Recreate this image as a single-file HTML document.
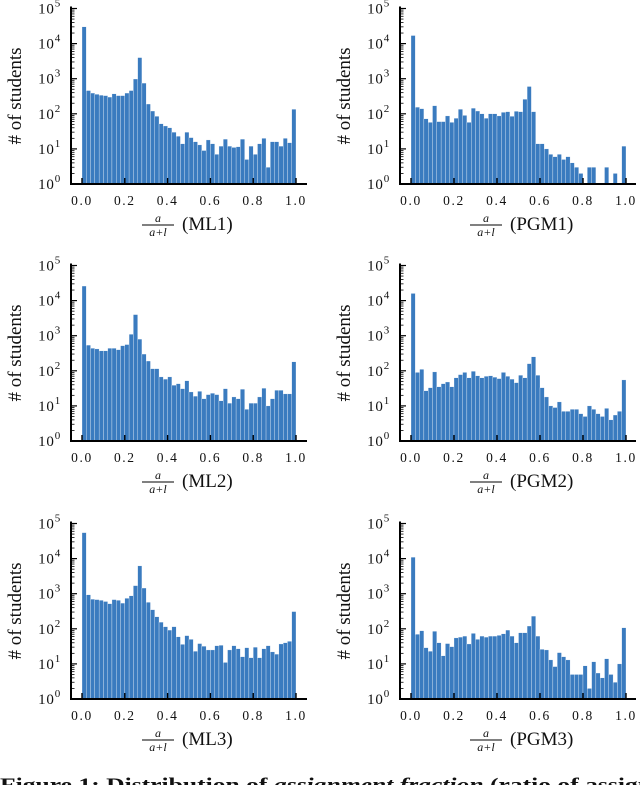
<!DOCTYPE html>
<html><head><meta charset="utf-8">
<style>
html,body{margin:0;padding:0;background:#fff;}
body{width:640px;height:785px;overflow:hidden;position:relative;}
svg{position:absolute;left:0;top:0;}
text{font-family:"Liberation Serif",serif;fill:#111;}
</style></head>
<body>
<svg id="fig" width="640" height="785" viewBox="0 0 640 785"></svg>
<script>
const binEdges = [0,0.02,0.04,0.06,0.08,0.1,0.12,0.14,0.16,0.18,0.2,0.22,0.24,0.26,0.28,0.3,0.32,0.34,0.36,0.38,0.4,0.42,0.44,0.46,0.48,0.5,0.52,0.54,0.56,0.58,0.6,0.62,0.64,0.66,0.68,0.7,0.72,0.74,0.76,0.78,0.8,0.82,0.84,0.86,0.88,0.9,0.92,0.94,0.96,0.98,1.0];
const xTickLabels = ["0.0","0.2","0.4","0.6","0.8","1.0"];
const yTickExps = [0,1,2,3,4,5];
const panelNames = ["ML1","PGM1","ML2","PGM2","ML3","PGM3"];
const countsML1 = [30000,460,390,360,340,330,300,370,330,330,390,460,980,4000,750,190,120,85,52,45,40,30,23,14,30,21,16,13,9,18,14,7,12,19,12,11,11.5,19,5,12,7,14,20,3,16,16,12,20,15,135];
const countsPGM1 = [17000,155,140,72,57,170,60,60,87,57,75,135,90,57,145,120,100,75,100,100,87,110,115,85,118,115,260,600,115,14,14,10,7,6,7,5,6,4,3,2,0,3,3,0,0,3,0,2,0,12];
const countsML2 = [26000,540,440,420,370,370,440,440,400,520,560,1100,4000,800,300,190,115,115,67,58,67,39,43,31,52,25,19,26,16,21,23,21,14,31,12,18,16,30,8,12,12,18,32,10,16,28,28,22,22,180];
const countsPGM2 = [16000,90,110,27,33,93,35,43,48,35,63,78,90,63,97,72,63,70,72,66,60,90,70,58,46,75,63,160,250,75,33,18,10,9,13,7,7,8,8,6,5,10,8,6,5,8.5,4,5.5,7,55];
const countsML3 = [55000,930,700,680,650,600,520,680,650,540,740,870,1700,6200,1450,570,350,220,155,115,92,115,59,36,64,50,23,38,32,25,25,33,34,11,25,33,27,16,29,15,30,15,27,33,22,19,37,40,44,310];
const countsPGM3 = [11000,70,88,29,23,85,40,17,38,31,55,58,62,37,74,50,62,58,62,62,65,72,92,62,40,77,77,120,230,62,26,25,13,8.4,21,16,13,5,5,5,8.8,2,11.5,5.5,4,14,5,3,10,107];
const allCounts = [countsML1,countsPGM1,countsML2,countsPGM2,countsML3,countsPGM3];

const NS="http://www.w3.org/2000/svg";
const svg=document.getElementById('fig');
function mk(tag,attrs,parent){const e=document.createElementNS(NS,tag);for(const k in attrs)e.setAttribute(k,attrs[k]);(parent||svg).appendChild(e);return e;}

const cols=[{spine:71,x0:82,x1:296,end:307,ylab:14},{spine:400,x0:411,x1:626,end:636,ylab:343}];
const rows=[184,441,699];
const dec=35.1;

for(let p=0;p<6;p++){
  const c=cols[p%2], bottom=rows[Math.floor(p/2)];
  const g=mk('g',{});
  
  
  const xs=v=>c.x0+(c.x1-c.x0)*v;
  const ys=v=>bottom-Math.log10(v)*dec;
  const counts=allCounts[p];
  for(let i=0;i<counts.length;i++){
    if(!(counts[i]>=1))continue;
    const xa=xs(binEdges[i]),xb=xs(binEdges[i+1]),yt=ys(counts[i]);
    const r=mk('rect',{x:xa,y:yt,width:xb-xa,height:bottom-yt,fill:'#3a7bbf',stroke:'#ffffff','stroke-width':0.3},g);
    
    
  }
  const sp=mk('path',{d:`M${c.spine} ${bottom-5*dec-2} V${bottom} H${c.end}`,stroke:'#000','stroke-width':2,fill:'none'},g);
  
  
  for(const e of yTickExps){
    const y=bottom-e*dec;
    mk('line',{x1:c.spine,x2:c.spine+6,y1:y,y2:y,stroke:'#000','stroke-width':1.2},g);
    if(e<5){for(let m=2;m<10;m++){const ym=bottom-(e+Math.log10(m))*dec;mk('line',{x1:c.spine,x2:c.spine+3.5,y1:ym,y2:ym,stroke:'#000','stroke-width':0.8},g);}}
    const t=mk('text',{x:c.spine-10,y:y+5,'text-anchor':'end','font-size':15,'letter-spacing':'0.8'},g);
    
    
    t.textContent='10';
    const s=mk('tspan',{dy:-7,'font-size':11},t);s.textContent=String(e);
  }
  xTickLabels.forEach((lab,k)=>{
    const x=xs(k/5);
    mk('line',{x1:x,x2:x,y1:bottom,y2:bottom-6,stroke:'#000','stroke-width':1.4},g);
    const t=mk('text',{x:x,y:bottom+21,'text-anchor':'middle','font-size':13.5,'letter-spacing':'1.6'},g);
    
    
    t.textContent=lab;
  });
  const yt=mk('text',{x:0,y:0,'font-size':19,'text-anchor':'middle',transform:`translate(${c.ylab+7},${bottom-88}) rotate(-90)`},g);
  
  
  yt.textContent='# of students';
  const fx=(p%2===0)?158:486, lx=(p%2===0)?182:510;
  const xg=mk('g',{},g);
  
  
  mk('text',{x:fx,y:bottom+38,'text-anchor':'middle','font-size':12,'font-style':'italic'},xg).textContent='a';
  mk('line',{x1:fx-16,x2:fx+16,y1:bottom+41,y2:bottom+41,stroke:'#000','stroke-width':0.9},xg);
  mk('text',{x:fx,y:bottom+52,'text-anchor':'middle','font-size':12,'font-style':'italic'},xg).textContent='a+l';
  mk('text',{x:lx,y:bottom+46,'font-size':19},xg).textContent='('+panelNames[p]+')';
}
const cap=mk('text',{x:0,y:791,'font-size':18.5,'font-weight':'bold',textLength:652,lengthAdjust:'spacingAndGlyphs'});


cap.innerHTML='Figure 1: Distribution of <tspan font-style="italic">assignment fraction</tspan> (ratio of assign';
</script>
</body></html>
